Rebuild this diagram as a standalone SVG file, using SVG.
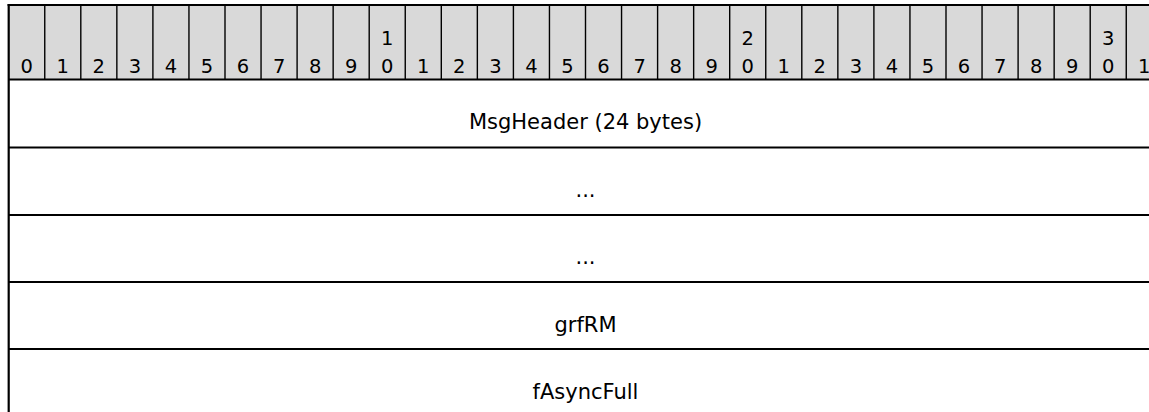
<svg xmlns="http://www.w3.org/2000/svg" width="1149" height="412" viewBox="0 0 1149 412">
<style>
text{font-family:"DejaVu Sans",Verdana,sans-serif;fill:#000}
.bit{font-size:19.5px;text-anchor:middle}
.fld{font-size:21px;text-anchor:middle}
.div{stroke:#000;stroke-width:1.4}
.bold{stroke:#000;stroke-width:2.2;fill:none}
</style>
<g id="header">
<rect x="8.7" y="5" width="1160" height="74.5" fill="#d9d9d9"/>
<g class="div">
<line x1="44.75" y1="5" x2="44.75" y2="79.5"/><line x1="80.8" y1="5" x2="80.8" y2="79.5"/><line x1="116.85" y1="5" x2="116.85" y2="79.5"/><line x1="152.9" y1="5" x2="152.9" y2="79.5"/><line x1="188.95" y1="5" x2="188.95" y2="79.5"/><line x1="225" y1="5" x2="225" y2="79.5"/><line x1="261.05" y1="5" x2="261.05" y2="79.5"/><line x1="297.1" y1="5" x2="297.1" y2="79.5"/><line x1="333.15" y1="5" x2="333.15" y2="79.5"/><line x1="369.2" y1="5" x2="369.2" y2="79.5"/><line x1="405.25" y1="5" x2="405.25" y2="79.5"/><line x1="441.3" y1="5" x2="441.3" y2="79.5"/><line x1="477.35" y1="5" x2="477.35" y2="79.5"/><line x1="513.4" y1="5" x2="513.4" y2="79.5"/><line x1="549.45" y1="5" x2="549.45" y2="79.5"/><line x1="585.5" y1="5" x2="585.5" y2="79.5"/><line x1="621.55" y1="5" x2="621.55" y2="79.5"/><line x1="657.6" y1="5" x2="657.6" y2="79.5"/><line x1="693.65" y1="5" x2="693.65" y2="79.5"/><line x1="729.7" y1="5" x2="729.7" y2="79.5"/><line x1="765.75" y1="5" x2="765.75" y2="79.5"/><line x1="801.8" y1="5" x2="801.8" y2="79.5"/><line x1="837.85" y1="5" x2="837.85" y2="79.5"/><line x1="873.9" y1="5" x2="873.9" y2="79.5"/><line x1="909.95" y1="5" x2="909.95" y2="79.5"/><line x1="946" y1="5" x2="946" y2="79.5"/><line x1="982.05" y1="5" x2="982.05" y2="79.5"/><line x1="1018.1" y1="5" x2="1018.1" y2="79.5"/><line x1="1054.15" y1="5" x2="1054.15" y2="79.5"/><line x1="1090.2" y1="5" x2="1090.2" y2="79.5"/><line x1="1126.25" y1="5" x2="1126.25" y2="79.5"/>
</g>
<g class="bit">
<text x="26.7" y="73">0</text><text x="62.8" y="73">1</text><text x="98.8" y="73">2</text><text x="134.9" y="73">3</text><text x="170.9" y="73">4</text><text x="207" y="73">5</text><text x="243" y="73">6</text><text x="279.1" y="73">7</text><text x="315.1" y="73">8</text><text x="351.2" y="73">9</text>
<text x="387.2" y="45">1</text><text x="387.2" y="73">0</text>
<text x="423.3" y="73">1</text><text x="459.3" y="73">2</text><text x="495.4" y="73">3</text><text x="531.4" y="73">4</text><text x="567.5" y="73">5</text><text x="603.5" y="73">6</text><text x="639.6" y="73">7</text><text x="675.6" y="73">8</text><text x="711.7" y="73">9</text>
<text x="747.7" y="45">2</text><text x="747.7" y="73">0</text>
<text x="783.8" y="73">1</text><text x="819.8" y="73">2</text><text x="855.9" y="73">3</text><text x="891.9" y="73">4</text><text x="928" y="73">5</text><text x="964" y="73">6</text><text x="1000.1" y="73">7</text><text x="1036.1" y="73">8</text><text x="1072.2" y="73">9</text>
<text x="1108.2" y="45">3</text><text x="1108.2" y="73">0</text>
<text x="1144.3" y="73">1</text>
</g>
</g>
<g id="row-msgheader"><text class="fld" x="585.5" y="129">MsgHeader (24 bytes)</text></g>
<g id="row-ellipsis-1"><text class="fld" x="585.5" y="196.5">...</text></g>
<g id="row-ellipsis-2"><text class="fld" x="585.5" y="264">...</text></g>
<g id="row-grfrm"><text class="fld" x="585.5" y="331.5">grfRM</text></g>
<g id="row-fasyncfull"><text class="fld" x="585.5" y="398.5">fAsyncFull</text></g>
<g id="lines" class="bold">
<line x1="7.6" y1="5" x2="1160" y2="5"/>
<line x1="8.7" y1="4" x2="8.7" y2="412"/>
<line x1="8.7" y1="79.5" x2="1160" y2="79.5"/>
<line x1="8.7" y1="147.5" x2="1160" y2="147.5"/>
<line x1="8.7" y1="215" x2="1160" y2="215"/>
<line x1="8.7" y1="282" x2="1160" y2="282"/>
<line x1="8.7" y1="349" x2="1160" y2="349"/>
</g>
</svg>
